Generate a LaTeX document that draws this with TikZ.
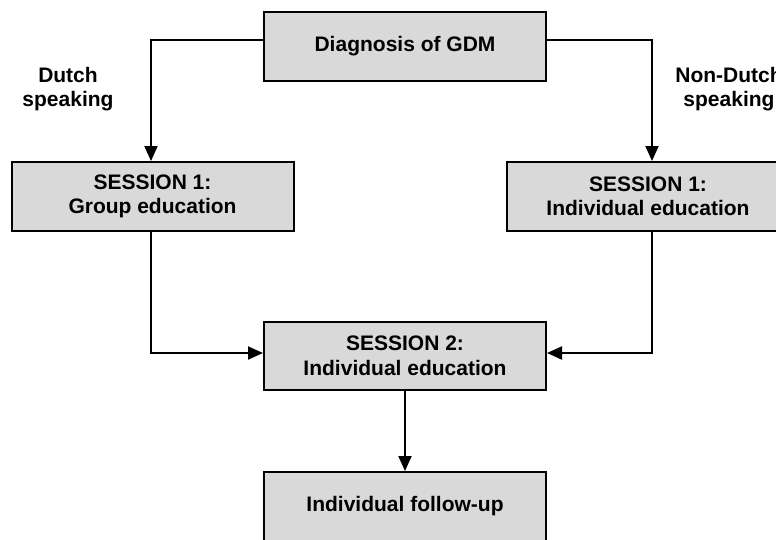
\documentclass[tikz,border=0pt]{standalone}
\usepackage{fontspec}
\setmainfont{Liberation Sans}
\usetikzlibrary{arrows.meta}

\begin{document}
\begin{tikzpicture}[x=1pt, y=-1pt,
                        font=\bfseries\fontsize{21}{24.5}\selectfont,
                        stepbox/.style={draw, line width=2pt, fill=black!15, align=center,
                            minimum width=282pt, minimum height=69pt, inner sep=0pt},
                        lbl/.style={align=center, inner sep=0pt},
                        link/.style={line width=2pt, -{Triangle[length=15pt, width=13pt]}}]
                        \useasboundingbox (0,0) rectangle (776,539);
                        \node[stepbox] (diag) at (405,46.5) {Diagnosis of GDM};
                        \node[stepbox] (grp) at (152.5,196.5) {SESSION 1:\\Group education};
                        \node[stepbox] (indiv) at (648,196.5) {SESSION 1:\\Individual education};
                        \node[stepbox, minimum height=68pt] (sess2) at (405,356) {SESSION 2:\\Individual education};
                        \node[stepbox] (follow) at (405,506.5) {Individual follow-up};
                        \node[lbl] (dutch) at (68,89) {Dutch\\speaking};
                        \node[lbl] (nondutch) at (729,89) {Non-Dutch\\speaking};
                        \draw[link] ([yshift=7pt]diag.west) -| ([xshift=-1.5pt]grp.north);
                        \draw[link] ([yshift=7pt]diag.east) -| ([xshift=4pt]indiv.north);
                        \draw[link] ([xshift=-1.5pt]grp.south) |- ([yshift=3pt]sess2.west);
                        \draw[link] ([xshift=4pt]indiv.south) |- ([yshift=3pt]sess2.east);
                        \draw[link] (sess2.south) -- (follow.north);
                    \end{tikzpicture}
\end{document}
